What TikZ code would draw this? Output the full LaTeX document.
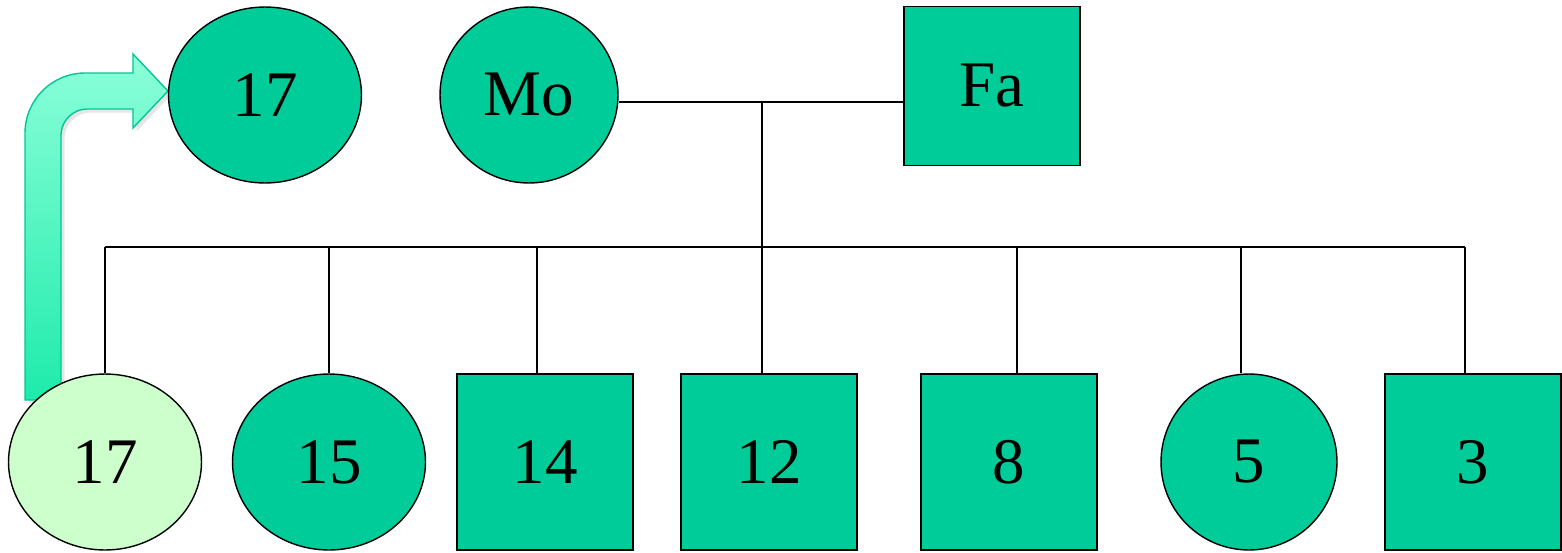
\documentclass[tikz,border=0pt]{standalone}
\usepackage{fontspec}
\setmainfont{Liberation Serif}
\usepackage{tikz}
\usetikzlibrary{shapes,arrows,positioning,shadows}

\definecolor{kin}{HTML}{00CC99}
\definecolor{proband}{HTML}{CCFFCC}
\definecolor{arrtop}{HTML}{8CFFD9}
\definecolor{arrbot}{HTML}{1EEBAA}
\definecolor{arredge}{HTML}{00C896}

\begin{document}
\begin{tikzpicture}[x=0.02cm,y=-0.02cm,
	female/.style={shape=ellipse,draw,fill=kin,line width=0.8pt,inner sep=0pt,minimum width=3.86cm,minimum height=3.52cm,font=\fontsize{37}{40}\selectfont},
	male/.style={shape=rectangle,draw,fill=kin,line width=0.8pt,inner sep=0pt,minimum width=3.52cm,minimum height=3.52cm,font=\fontsize{37}{40}\selectfont},
	tie/.style={draw,line width=1pt}]
	\useasboundingbox (0,0) rectangle (1562,552);
	
	% bent arrow behind the proband
	\path[draw=arredge,line width=0.8pt,top color=arrtop,bottom color=arrbot,
		drop shadow={opacity=0.2,shadow xshift=2pt,shadow yshift=-2pt}]
		(25,400) -- (25,133) .. controls (25,100) and (52,73) .. (85,73)
		-- (133,73) -- (133,54) -- (168,91) -- (133,128) -- (133,109)
		-- (87,109) .. controls (73,109) and (61,121) .. (61,135) -- (61,400) -- cycle;
	
	\node[female] (top17) at (265,95) {17};
	\node[female,minimum width=3.56cm] (mo) at (529,95) {Mo};
	\node[male,minimum height=3.18cm] (fa) at (992,86) {Fa};
	
	\node[female,fill=proband] (c17) at (105,462) {17};
	\node[female] (c15) at (329,462) {15};
	\node[male] (c14) at (545,462) {14};
	\node[male] (c12) at (769,462) {12};
	\node[male] (c8) at (1009,462) {8};
	\node[female,minimum width=3.52cm] (c5) at (1249,462) {5};
	\node[male] (c3) at (1473,462) {3};
	
	\coordinate (mid) at (762,102);
	\coordinate (d17) at (105,247);
	\coordinate (d15) at (329,247);
	\coordinate (d14) at (537,247);
	\coordinate (d12) at (762,247);
	\coordinate (d8) at (1017,247);
	\coordinate (d5) at (1241,247);
	\coordinate (d3) at (1465,247);
	
	\path [tie] (mid -| mo.east) -- (mid -| fa.west);
	\path [tie] (mid) -- (d12);
	\path [tie] (d17) -- (d3);
	\path [tie] (d17) -- (c17.north);
	\path [tie] (d15) -- (c15.north);
	\path [tie] (d14) -- (d14 |- c14.north);
	\path [tie] (d12) -- (d12 |- c12.north);
	\path [tie] (d8) -- (d8 |- c8.north);
	\path [tie] (d5) -- (d5 |- c5.north);
	\path [tie] (d3) -- (d3 |- c3.north);
\end{tikzpicture}
\end{document}
